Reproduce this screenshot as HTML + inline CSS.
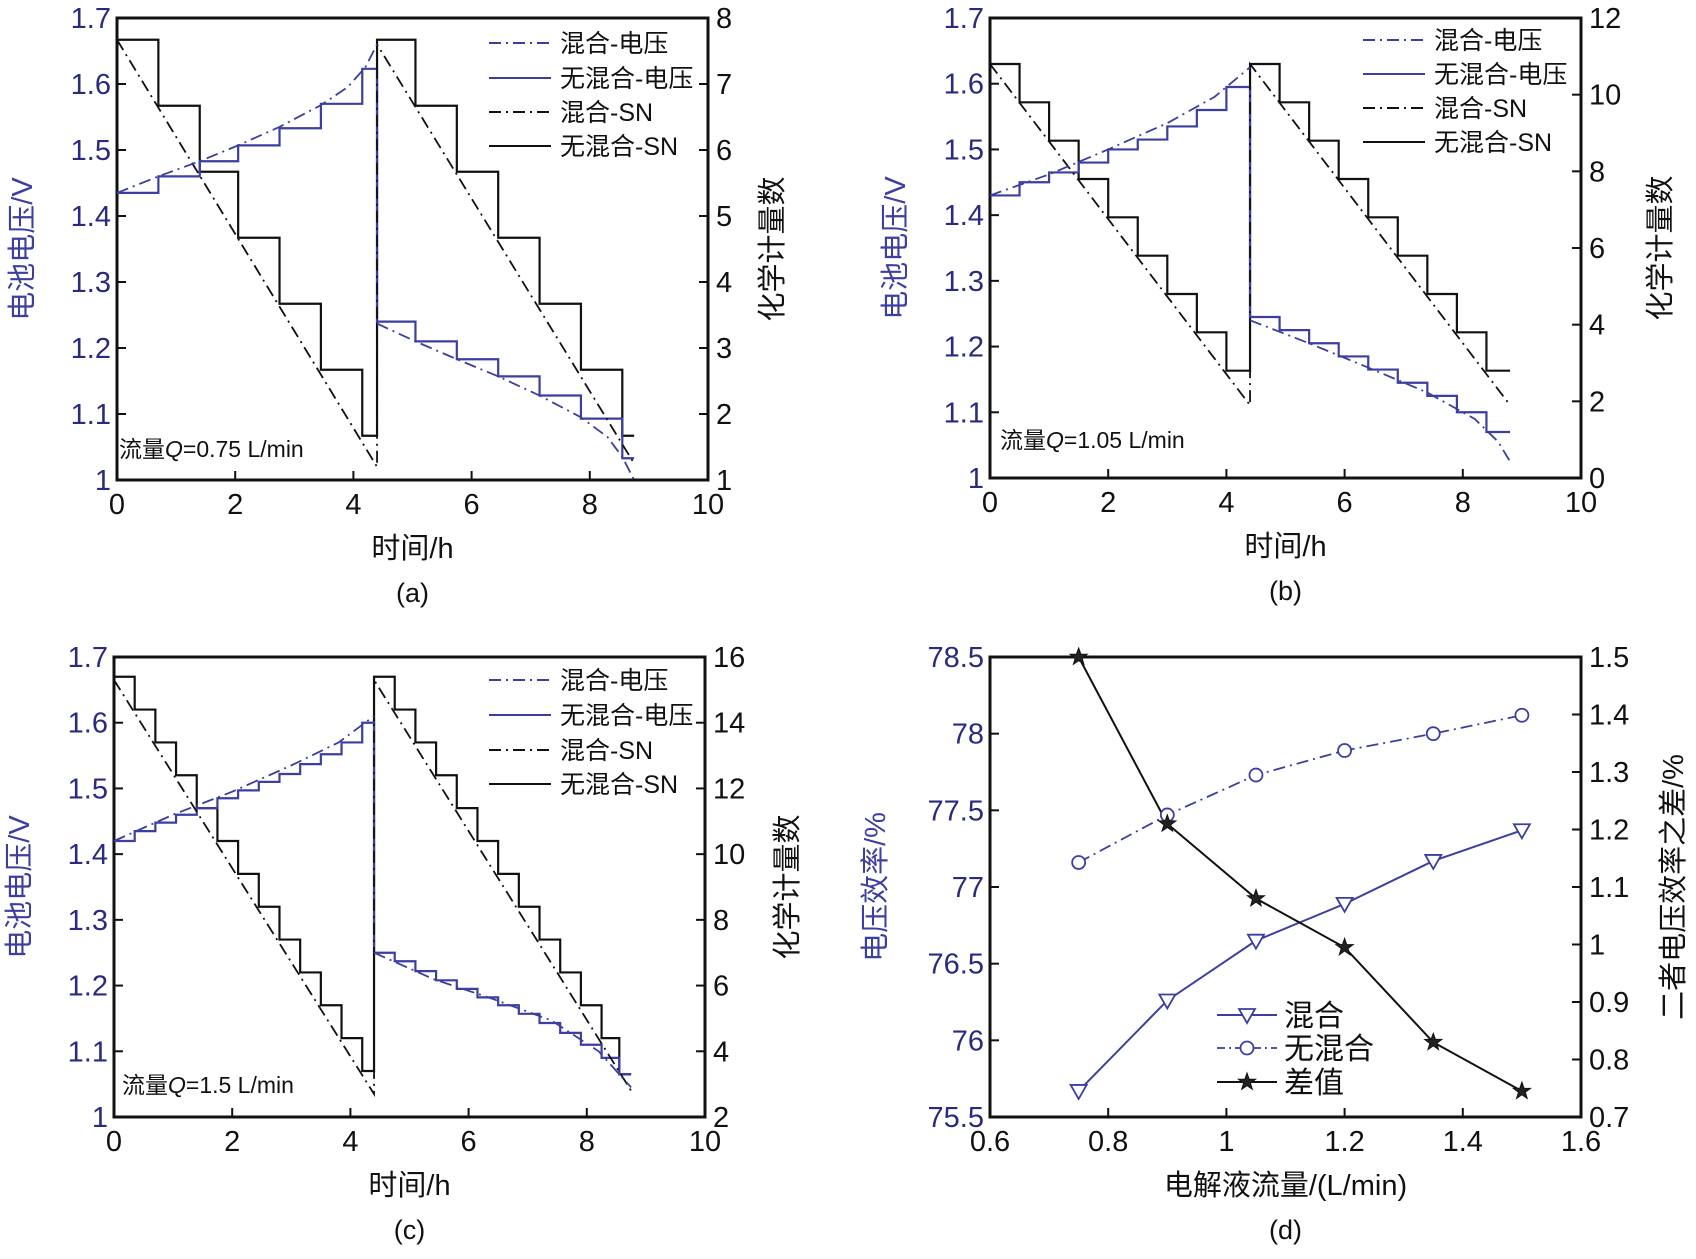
<!DOCTYPE html>
<html><head><meta charset="utf-8"><style>
html,body{margin:0;padding:0;background:#fff;}
svg{display:block;font-family:"Liberation Sans","Noto Sans CJK SC",sans-serif;}
</style></head><body>
<svg id="fig" width="1696" height="1259" viewBox="0 0 1696 1259" xmlns="http://www.w3.org/2000/svg"></svg>
<script>
// ---------- data ----------
const aStepT = [0,0.7,1.4,2.05,2.75,3.45,4.15,4.4,5.05,5.75,6.45,7.15,7.85,8.55,8.75];
const aSN = [7.67,6.67,5.67,4.67,3.67,2.67,1.67,7.67,6.67,5.67,4.67,3.67,2.67,1.67];
const aVolt = [1.435,1.46,1.483,1.507,1.533,1.57,1.623,1.24,1.21,1.183,1.157,1.128,1.093,1.033];
const aMixSNT = [0,4.4,4.4,8.75];
const aMixSN = [7.67,1.2,7.6,1.25];
const aMixVT1 = [0,0.7,1.4,2.05,2.75,3.45,3.9,4.2,4.4];
const aMixV1 = [1.435,1.46,1.483,1.507,1.535,1.568,1.595,1.625,1.66];
const aMixVT2 = [4.4,5.05,5.75,6.45,7.15,7.85,8.3,8.55,8.75];
const aMixV2 = [1.237,1.21,1.183,1.157,1.128,1.095,1.065,1.035,1.0];
const bStepT = [0,0.5,1,1.5,2,2.5,3,3.5,4,4.4,4.9,5.4,5.9,6.4,6.9,7.4,7.9,8.4,8.8];
const bSN = [10.8,9.8,8.8,7.8,6.8,5.8,4.8,3.8,2.8,10.8,9.8,8.8,7.8,6.8,5.8,4.8,3.8,2.8];
const bVolt = [1.43,1.45,1.465,1.48,1.5,1.515,1.535,1.56,1.595,1.245,1.225,1.205,1.185,1.165,1.145,1.125,1.1,1.07];
const bMixSNT = [0,4.4,4.4,8.8];
const bMixSN = [10.8,1.9,10.8,1.9];
const bMixVT1 = [0,1,2,3,3.8,4.4];
const bMixV1 = [1.43,1.462,1.5,1.54,1.58,1.625];
const bMixVT2 = [4.4,5.4,6.4,7.4,8.2,8.6,8.8];
const bMixV2 = [1.24,1.205,1.168,1.13,1.09,1.055,1.025];
const cStepT = [0,0.35,0.7,1.05,1.4,1.75,2.1,2.45,2.8,3.15,3.5,3.85,4.2,4.4,4.75,5.1,5.45,5.8,6.15,6.5,6.85,7.2,7.55,7.9,8.25,8.55,8.75];
const cSN = [15.4,14.4,13.4,12.4,11.4,10.4,9.4,8.4,7.4,6.4,5.4,4.4,3.4,15.4,14.4,13.4,12.4,11.4,10.4,9.4,8.4,7.4,6.4,5.4,4.4,3.3];
const cVolt = [1.42,1.435,1.448,1.46,1.47,1.485,1.497,1.51,1.522,1.537,1.552,1.57,1.6,1.25,1.237,1.222,1.208,1.195,1.182,1.17,1.157,1.143,1.128,1.11,1.09,1.065];
const cMixSNT = [0,4.4,4.4,8.75];
const cMixSN = [15.3,2.7,15.3,2.8];
const cMixVT1 = [0,1,2,3,3.8,4.4];
const cMixV1 = [1.42,1.46,1.495,1.535,1.57,1.61];
const cMixVT2 = [4.4,5.4,6.4,7.4,8.2,8.75];
const cMixV2 = [1.25,1.21,1.18,1.147,1.1,1.045];
const dFlow = [0.75,0.9,1.05,1.2,1.35,1.5];
const dMix = [75.67,76.26,76.65,76.89,77.17,77.37];
const dNoMix = [77.16,77.47,77.73,77.89,78.0,78.12];
const dDiff = [1.5,1.21,1.08,0.995,0.83,0.745];
const dXTicks = ['0.6','0.8','1','1.2','1.4','1.6'];
const dYTicks = ['75.5','76','76.5','77','77.5','78','78.5'];
const dRTicks = ['0.7','0.8','0.9','1','1.1','1.2','1.3','1.4','1.5'];

const NS='http://www.w3.org/2000/svg';
const svg=document.getElementById('fig');
const BLUE='#3c3ea0', TBLUE='#2a2a7e';
const TF=29;
function el(tag,attrs,parent){const e=document.createElementNS(NS,tag);for(const k in attrs)e.setAttribute(k,attrs[k]);(parent||svg).appendChild(e);return e;}
function txt(s,x,y,opt,parent){const t=el('text',Object.assign({x:x,y:y,'font-size':TF,fill:'#111'},opt||{}),parent);t.textContent=s;return t;}

function makeAxes(g,P,xmin,xmax,ymin,ymax,rmin,rmax,xt,yt,rt){
  const X=v=>P.l+(v-xmin)/(xmax-xmin)*(P.r-P.l);
  const Y=v=>P.b-(v-ymin)/(ymax-ymin)*(P.b-P.t);
  const R=v=>P.b-(v-rmin)/(rmax-rmin)*(P.b-P.t);
  const ax=el('g',{},g);
  
  xt.forEach(s=>{const x=X(parseFloat(s));el('line',{x1:x,x2:x,y1:P.b,y2:P.b-9,stroke:'#111','stroke-width':2},ax);
    const t=txt(s,x,P.b+34,{'text-anchor':'middle'},ax);});
  yt.forEach(s=>{const y=Y(parseFloat(s));el('line',{x1:P.l,x2:P.l+9,y1:y,y2:y,stroke:'#111','stroke-width':2},ax);
    const t=txt(s,P.l-6,y+10,{'text-anchor':'end',fill:TBLUE},ax);});
  rt.forEach(s=>{const y=R(parseFloat(s));el('line',{x1:P.r,x2:P.r-9,y1:y,y2:y,stroke:'#111','stroke-width':2},ax);
    const t=txt(s,P.r+8,y+10,{'text-anchor':'start'},ax);});
  el('rect',{x:P.l,y:P.t,width:P.r-P.l,height:P.b-P.t,fill:'none',stroke:'#111','stroke-width':3},ax);
  return {X,Y,R};
}
function stepPath(T,V,X,Y){let d='';for(let i=0;i<V.length;i++){const x0=X(T[i]),x1=X(T[i+1]),y=Y(V[i]);d+=(i===0?'M':'L')+x0+','+y+' L'+x1+','+y+' ';}return d;}
function linePath(T,V,X,Y){return T.map((t,i)=>(i?'L':'M')+X(t)+','+Y(V[i])).join(' ');}

const DASHDOT='12,5,2,5';
function timePanel(name,P,rmin,rmax,rt,stepT,sn,volt,mixSNT,mixSN,mvt1,mv1,mvt2,mv2,label,letter,legY){
  const g=el('g',{});
  
  const yt=['1','1.1','1.2','1.3','1.4','1.5','1.6','1.7'];
  const xt=['0','2','4','6','8','10'];
  const A=makeAxes(g,P,0,10,1,1.7,rmin,rmax,xt,yt,rt);
  const lg=el('g',{},g);
  
  const p1=el('path',{d:stepPath(stepT,sn,A.X,A.R),fill:'none',stroke:'#111','stroke-width':2.2},g);
  
  const p2=el('path',{d:stepPath(stepT,volt,A.X,A.Y),fill:'none',stroke:BLUE,'stroke-width':2.2},g);
  
  const p3=el('path',{d:linePath(mixSNT,mixSN,A.X,A.R),fill:'none',stroke:'#111','stroke-width':1.8,'stroke-dasharray':DASHDOT},g);
  
  const p4=el('path',{d:linePath(mvt1,mv1,A.X,A.Y)+' '+linePath(mvt2,mv2,A.X,A.Y),fill:'none',stroke:BLUE,'stroke-width':1.8,'stroke-dasharray':DASHDOT},g);
  
  const lx=legY.x, names=['混合-电压','无混合-电压','混合-SN','无混合-SN'];
  const cols=[BLUE,BLUE,'#111','#111'], dash=[DASHDOT,'',DASHDOT,''];
  el('rect',{x:lx-4,y:legY.y[0]-18,width:205,height:legY.y[3]-legY.y[0]+36,fill:'#fff'},lg);
  svg.appendChild(lg);
  names.forEach((n,i)=>{const y=legY.y[i];
    const ln=el('line',{x1:lx,x2:lx+62,y1:y,y2:y,stroke:cols[i],'stroke-width':2,'stroke-dasharray':dash[i]},lg);
    
    const t=txt(n,lx+71,y+9,{'font-size':25},lg);});
  const an=el('text',{x:label.x,y:label.y,'font-size':23,fill:'#111'},g);
  an.innerHTML='流量<tspan font-style="italic">Q</tspan>='+label.s;
  
  const xtl=txt('时间/h',(P.l+P.r)/2,P.b+78,{'text-anchor':'middle','font-size':29},g);
  
  const pl=txt('('+letter+')',(P.l+P.r)/2,P.b+122,{'text-anchor':'middle','font-size':27},g);
  
  const cy=(P.t+P.b)/2;
  const yl=txt('电池电压/V',P.l-85,cy,{'text-anchor':'middle','font-size':29,fill:BLUE,transform:'rotate(-90 '+(P.l-85)+' '+cy+')'},g);
  
  const rx=P.r+labelOff(name);
  const ry=txt('化学计量数',rx,cy,{'text-anchor':'middle','font-size':29,transform:'rotate(-90 '+rx+' '+cy+')'},g);
  
}
function labelOff(n){return n==='panel-b'?89:n==='panel-c'?92:74;}

timePanel('panel-a',{l:117,r:708,t:18,b:480},1,8,['1','2','3','4','5','6','7','8'],
  aStepT,aSN,aVolt,aMixSNT,aMixSN,aMixVT1,aMixV1,aMixVT2,aMixV2,{x:119,y:457,s:'0.75 L/min'},'a',{x:489,y:[43,78,112,146]});
timePanel('panel-b',{l:990,r:1581,t:18,b:478},0,12,['0','2','4','6','8','10','12'],
  bStepT,bSN,bVolt,bMixSNT,bMixSN,bMixVT1,bMixV1,bMixVT2,bMixV2,{x:1000,y:448,s:'1.05 L/min'},'b',{x:1363,y:[40,74,108,142]});
timePanel('panel-c',{l:114,r:705,t:657,b:1117},2,16,['2','4','6','8','10','12','14','16'],
  cStepT,cSN,cVolt,cMixSNT,cMixSN,cMixVT1,cMixV1,cMixVT2,cMixV2,{x:122,y:1093,s:'1.5 L/min'},'c',{x:489,y:[680,715,750,784]});

(function(){
  const g=el('g',{});
  
  const P={l:990,r:1581,t:657,b:1117};
  const A=makeAxes(g,P,0.6,1.6,75.5,78.5,0.7,1.5,dXTicks,dYTicks,dRTicks);
  const s1=el('path',{d:linePath(dFlow,dMix,A.X,A.Y),fill:'none',stroke:BLUE,'stroke-width':2},g);
  
  const s2=el('path',{d:linePath(dFlow,dNoMix,A.X,A.Y),fill:'none',stroke:BLUE,'stroke-width':1.8,'stroke-dasharray':DASHDOT},g);
  
  const s3=el('path',{d:linePath(dFlow,dDiff,A.X,A.R),fill:'none',stroke:'#111','stroke-width':2},g);
  
  function tri(x,y,p){return el('path',{d:`M${x-8},${y-6} L${x+8},${y-6} L${x},${y+8} Z`,fill:'#fff',stroke:BLUE,'stroke-width':1.8},p);}
  function circ(x,y,p){return el('circle',{cx:x,cy:y,r:6.5,fill:'#fff',stroke:BLUE,'stroke-width':1.8},p);}
  function star(x,y,p){let d='';for(let i=0;i<10;i++){const r=i%2?3.6:9,a=-Math.PI/2+i*Math.PI/5;d+=(i?'L':'M')+(x+r*Math.cos(a)).toFixed(1)+','+(y+r*Math.sin(a)).toFixed(1);}return el('path',{d:d+'Z',fill:'#222',stroke:'#111','stroke-width':1},p);}
  dFlow.forEach((f,i)=>{
    const m1=tri(A.X(f),A.Y(dMix[i]),g);
    const m2=circ(A.X(f),A.Y(dNoMix[i]),g);
    const m3=star(A.X(f),A.R(dDiff[i]),g);
  });
  const lg=el('g',{},g);
  const ly=[1015,1048,1082],lx=1217;
  el('line',{x1:lx,x2:lx+60,y1:ly[0],y2:ly[0],stroke:BLUE,'stroke-width':2},lg);tri(lx+30,ly[0],lg);
  el('line',{x1:lx,x2:lx+60,y1:ly[1],y2:ly[1],stroke:BLUE,'stroke-width':1.8,'stroke-dasharray':'8,4,2,4'},lg);circ(lx+30,ly[1],lg);
  el('line',{x1:lx,x2:lx+60,y1:ly[2],y2:ly[2],stroke:'#111','stroke-width':2},lg);star(lx+30,ly[2],lg);
  ['混合','无混合','差值'].forEach((n,i)=>{const t=txt(n,lx+67,ly[i]+11,{'font-size':30},lg);});
  const xtl=txt('电解液流量/(L/min)',(P.l+P.r)/2,P.b+78,{'text-anchor':'middle','font-size':29},g);
  
  const pl=txt('(d)',(P.l+P.r)/2,P.b+122,{'text-anchor':'middle','font-size':27},g);
  
  const cy=(P.t+P.b)/2,lxx=P.l-105;
  const yl=txt('电压效率/%',lxx,cy,{'text-anchor':'middle','font-size':29,fill:BLUE,transform:'rotate(-90 '+lxx+' '+cy+')'},g);
  
  const rx=P.r+102;
  const ry=txt('二者电压效率之差/%',rx,cy,{'text-anchor':'middle','font-size':29,transform:'rotate(-90 '+rx+' '+cy+')'},g);
  
})();
</script>
</body></html>
